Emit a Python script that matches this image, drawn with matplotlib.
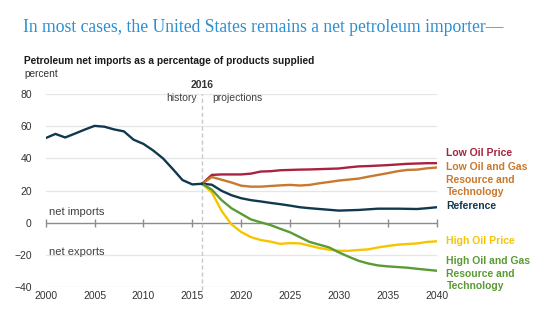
import numpy as np
import matplotlib.pyplot as plt

plt.rcParams['font.family'] = ['Liberation Sans', 'DejaVu Sans']

# history 2000-2016
hist_years = list(range(2000, 2017))
hist_vals = [52.6, 55.2, 53.0, 55.4, 57.9, 60.2, 59.7, 58.0, 56.8, 51.6,
             49.0, 44.9, 40.0, 33.4, 26.5, 23.8, 24.2]

# projections 2016-2040
proj_years = list(range(2016, 2041))
low_price = [24.2, 29.7, 30.0, 30.0, 30.0, 30.5, 31.8, 32.0, 32.6, 32.8,
             33.0, 33.1, 33.3, 33.5, 33.7, 34.4, 35.0, 35.2, 35.5, 35.8,
             36.2, 36.6, 36.8, 37.0, 37.0]
low_res = [24.2, 28.4, 26.7, 25.0, 23.0, 22.4, 22.4, 22.8, 23.2, 23.5,
           23.1, 23.5, 24.5, 25.3, 26.2, 26.8, 27.4, 28.6, 29.7, 30.8,
           32.0, 32.8, 33.0, 33.8, 34.3]
reference = [24.2, 23.6, 19.8, 17.1, 15.2, 14.0, 13.2, 12.3, 11.5, 10.6,
             9.6, 9.0, 8.5, 8.0, 7.5, 7.7, 7.9, 8.3, 8.7, 8.7,
             8.7, 8.6, 8.5, 9.0, 9.6]
high_price = [24.2, 18.8, 7.3, -1.0, -5.8, -9.0, -10.8, -11.8, -13.2, -12.7,
              -12.9, -14.3, -15.8, -16.8, -17.5, -17.5, -17.0, -16.6, -15.4, -14.5,
              -13.7, -13.3, -12.9, -12.0, -11.6]
high_res = [24.2, 20.5, 14.0, 9.0, 5.5, 2.0, 0.2, -1.5, -3.8, -6.0,
            -9.0, -12.0, -13.7, -15.4, -18.5, -21.2, -23.7, -25.4, -26.6, -27.2,
            -27.6, -28.0, -28.7, -29.3, -29.9]

series = [
    (low_price, '#a8233f', 'Low Oil Price', 43.3),
    (low_res, '#c9782c', 'Low Oil and Gas\nResource and\nTechnology', 34.4),
    (reference, '#10394f', 'Reference', 10.6),
    (high_price, '#f6c500', 'High Oil Price', -11.6),
    (high_res, '#5b9a35', 'High Oil and Gas\nResource and\nTechnology', -24.2),
]

xticks = list(range(2000, 2041, 5))
yticks = [-40, -20, 0, 20, 40, 60, 80]

fig = plt.figure(figsize=(5.5, 3.21), dpi=100)
ax = fig.add_axes([0.083, 0.106, 0.711, 0.601])

# grid, zero line with its little ticks, and the 2016 divider
for y in yticks:
    if y == 0:
        continue
    ax.axhline(y, color='#e6e6e6', lw=0.9, zorder=0)
ax.axhline(0, color='#8c8c8c', lw=1.0, zorder=1)
ax.plot(xticks, [0] * len(xticks), ls='none', marker='|', ms=6, mew=1.0,
        color='#8c8c8c', zorder=1, clip_on=False)
ax.plot([2016, 2016], [-42, 80], color='#c8c8c8', lw=1.0, ls=(0, (3, 2)),
        zorder=1, clip_on=False)

for vals, col, lab, ly in series:
    ax.plot(proj_years, vals, color=col, lw=1.7, zorder=3)
ax.plot(hist_years, hist_vals, color='#10394f', lw=1.7, zorder=4)

# line labels at the right
for vals, col, lab, ly in series:
    multi = '\n' in lab
    ax.text(2041.0, ly + (3.4 if multi else 0), lab, color=col,
            fontsize=7.5, fontweight='bold',
            va='top' if multi else 'center', ha='left',
            linespacing=1.33, clip_on=False)

ax.text(2000.3, 6.6, 'net imports', fontsize=8, color='#404040', va='center')
ax.text(2000.3, -18, 'net exports', fontsize=8, color='#404040', va='center')
ax.text(2016, 85.6, '2016', fontsize=7.5, fontweight='bold', color='#333333',
        ha='center', va='center')
ax.text(2015.5, 77.7, 'history', fontsize=7.5, color='#404040',
        ha='right', va='center')
ax.text(2017.0, 77.7, 'projections', fontsize=7.5, color='#404040',
        ha='left', va='center')

ax.set_xlim(2000, 2040)
ax.set_ylim(-40, 80)
ax.set_xticks(xticks)
ax.set_yticks(yticks)
ax.tick_params(length=0, labelsize=7.5, colors='#333333')
ax.tick_params(axis='y', pad=10)
ax.tick_params(axis='x', pad=3)
for s in ax.spines.values():
    s.set_visible(False)

fig.text(0.042, 0.915, 'In most cases, the United States remains a net petroleum importer\u2014',
         family='Liberation Serif', fontsize=12.7, color='#2a8fd3', va='center')
fig.text(0.044, 0.81, 'Petroleum net imports as a percentage of products supplied',
         fontsize=7.3, fontweight='bold', color='#1a1a1a', va='center')
fig.text(0.044, 0.77, 'percent', fontsize=7.3, color='#333333', va='center')

fig.savefig('out.png', dpi=100)
